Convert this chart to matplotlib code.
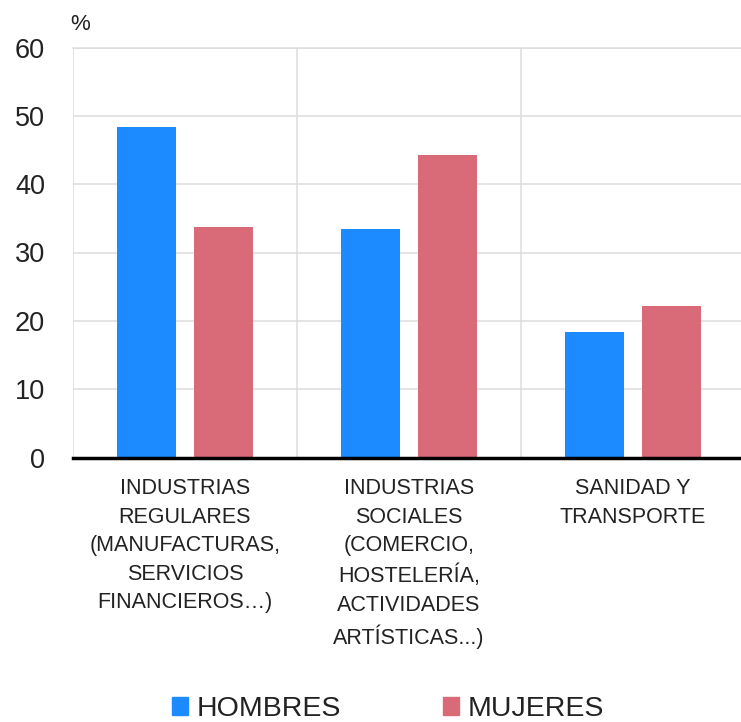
import numpy as np
import matplotlib
matplotlib.use("Agg")
import matplotlib.pyplot as plt
from matplotlib.patches import Patch

plt.rcParams['font.family'] = ['Liberation Sans', 'DejaVu Sans']

categorias = ["INDUSTRIAS\nREGULARES\n(MANUFACTURAS,\nSERVICIOS\nFINANCIEROS…)",
              "INDUSTRIAS\nSOCIALES\n(COMERCIO,\nHOSTELERÍA,\nACTIVIDADES\nARTÍSTICAS...)",
              "SANIDAD Y\nTRANSPORTE"]
hombres = [48.4, 33.4, 18.3]
mujeres = [33.8, 44.2, 22.2]
series_names = ["HOMBRES", "MUJERES"]

azul = "#1b8bff"
rojo = "#d96b78"
txt = "#222222"

fig = plt.figure(figsize=(7.41, 7.22), dpi=100)
# axes spans x 73..745 px, y 47..457 px
ax = fig.add_axes([73/741, 1 - 457.5/722, 672/741, 410/722])

x = np.arange(len(categorias))
w = 0.263
off = 0.172
ax.bar(x - off, hombres, w, color=azul, zorder=3)
ax.bar(x + off, mujeres, w, color=rojo, zorder=3)

ax.set_xlim(-0.5, len(categorias) - 0.5)
ax.set_ylim(0, 60)
ax.set_yticks(range(0, 61, 10))
ax.yaxis.grid(True, color="#dddddd", lw=1.1, zorder=0)
for sep in np.arange(0.5, len(categorias) - 0.5, 1):
    ax.axvline(sep, color="#dddddd", lw=1.1, zorder=0)

for s in ["top", "right", "left"]:
    ax.spines[s].set_visible(False)
ax.spines["bottom"].set_linewidth(2.5)
ax.spines["bottom"].set_color("black")
ax.spines["bottom"].set_zorder(4)
ax.axhline(60, color="#dddddd", lw=1.1, zorder=0, clip_on=False)
ax.axvline(-0.5, color="#dddddd", lw=1.1, zorder=0)

ax.tick_params(axis="y", length=0, labelsize=19.5, labelcolor=txt, pad=20)
ax.tick_params(axis="x", length=0, labelsize=15.5, labelcolor=txt, pad=15)
ax.set_xticks(x)
ax.set_xticklabels(categorias, linespacing=1.47, va="top")

fig.text(70/741, 1 - 24/722, "%", fontsize=16, color=txt, va="center", ha="left")

handles = [Patch(color=azul), Patch(color=rojo)]
fig.legend(handles, series_names, loc="center", bbox_to_anchor=(388/741, 1 - 709/722),
           ncol=2, frameon=False, fontsize=20.5, handlelength=0.55, handleheight=0.55,
           handletextpad=0.3, columnspacing=3.6, labelcolor=txt)

fig.savefig("out.png", dpi=100)
